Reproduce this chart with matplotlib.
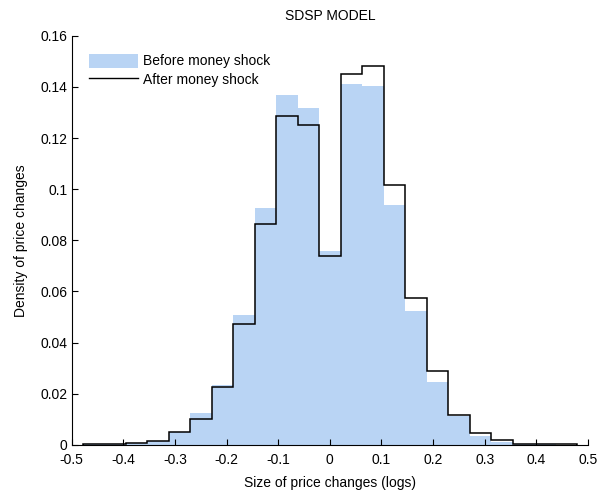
import matplotlib
matplotlib.use("Agg")
import matplotlib.pyplot as plt
from matplotlib.patches import Patch
from matplotlib.lines import Line2D
from matplotlib.ticker import FuncFormatter
import numpy as np

plt.rcParams['font.family'] = ['Liberation Sans', 'DejaVu Sans']
plt.rcParams['font.size'] = 10

# histogram bins (width 1/24, centred on zero)
bin_width = 1 / 24
centers = np.arange(-11, 12) * bin_width
edges = np.append(centers - bin_width / 2, centers[-1] + bin_width / 2)

before = [0.0002, 0.0003, 0.0008, 0.0015, 0.0050, 0.0125, 0.0235, 0.0509,
          0.0927, 0.1370, 0.1318, 0.0759, 0.1412, 0.1402, 0.0939, 0.0524,
          0.0248, 0.0112, 0.0036, 0.0013, 0.0004, 0.0002, 0.0001]
after = [0.0004, 0.0004, 0.0008, 0.0017, 0.0052, 0.0103, 0.0225, 0.0473,
         0.0865, 0.1285, 0.1252, 0.0739, 0.1452, 0.1483, 0.1017, 0.0575,
         0.0290, 0.0116, 0.0047, 0.0020, 0.0005, 0.0004, 0.0004]

xticks = [-0.5, -0.4, -0.3, -0.2, -0.1, 0, 0.1, 0.2, 0.3, 0.4, 0.5]
yticks = [0, 0.02, 0.04, 0.06, 0.08, 0.1, 0.12, 0.14, 0.16]

azul = '#b9d4f4'


def fmt(v, pos):
    v = round(v, 3)
    if v == 0:
        return "0"
    return "%g" % v


fig = plt.figure(figsize=(6.03, 4.90), dpi=100)
ax = fig.add_axes([0.119, 0.092, 0.856, 0.835])

ax.bar(centers, before, width=bin_width, color=azul, linewidth=0)
ax.stairs(after, edges, color='black', linewidth=1.1)

ax.set_xlim(-0.5, 0.5)
ax.set_ylim(0, 0.16)
ax.set_xticks(xticks)
ax.set_yticks(yticks)
ax.xaxis.set_major_formatter(FuncFormatter(fmt))
ax.yaxis.set_major_formatter(FuncFormatter(fmt))
ax.tick_params(direction='in', length=4, width=0.8)
ax.tick_params(axis='x', pad=6)
ax.tick_params(axis='y', pad=3)
ax.spines['top'].set_visible(False)
ax.spines['right'].set_visible(False)

ax.set_title("SDSP MODEL", fontsize=10, pad=11)
ax.set_xlabel("Size of price changes (logs)", labelpad=6)
ax.set_ylabel("Density of price changes", labelpad=9)

handles = [Patch(facecolor=azul, edgecolor='none', label='Before money shock'),
           Line2D([], [], color='black', linewidth=1.0, label='After money shock')]
ax.legend(handles=handles, loc='upper left', bbox_to_anchor=(0.023, 0.97),
          frameon=False, handlelength=3.5, handleheight=1.2,
          handletextpad=0.35, labelspacing=0.3, borderaxespad=0.0)

fig.savefig("out.png", dpi=100)
plt.close(fig)
